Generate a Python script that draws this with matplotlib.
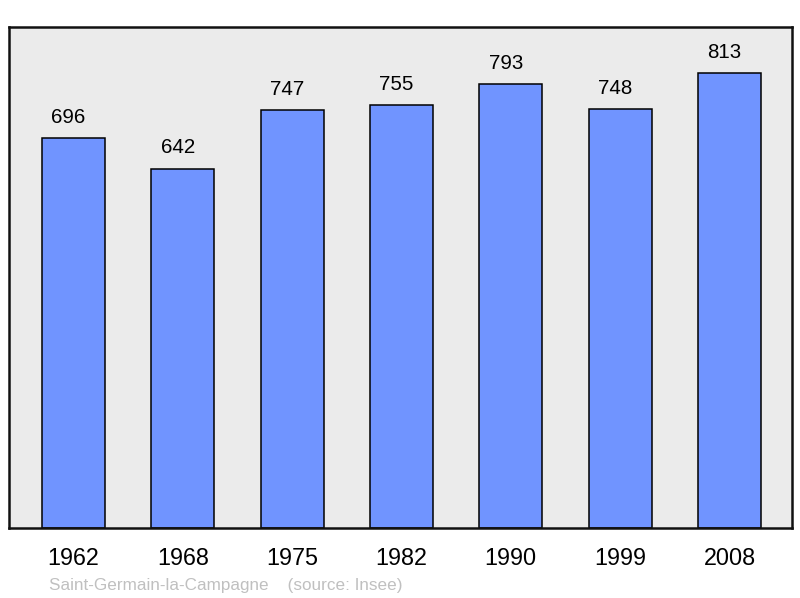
import matplotlib
matplotlib.use("Agg")
import matplotlib.pyplot as plt

years = ["1962", "1968", "1975", "1982", "1990", "1999", "2008"]
population = [696, 642, 747, 755, 793, 748, 813]
footer = "Saint-Germain-la-Campagne    (source: Insee)"

plt.rcParams['font.family'] = ['Liberation Sans', 'DejaVu Sans']

fig = plt.figure(figsize=(8, 5.98), dpi=100)
ax = fig.add_axes([9/800, 70/598, 783/800, 501/598])
ax.set_facecolor('#ebebeb')

x = list(range(len(years)))
bars = ax.bar(x, population, width=0.576, color='#7094ff', edgecolor='black', linewidth=1.1, zorder=2)
for xi, v in zip(x, population):
    ax.annotate(str(v), (xi, v), xytext=(-3.6, 11), textcoords='offset points',
                ha='center', va='baseline', fontsize=14.8, color='black')

ax.set_xlim(-0.59, 6.572)
ax.set_ylim(0, 895)
ax.set_xticks(x)
ax.set_xticklabels(years, fontsize=16.8)
ax.tick_params(axis='x', length=0, pad=13.5)
ax.set_yticks([])
for s in ax.spines.values():
    s.set_linewidth(1.8)
    s.set_color('#111111')

fig.text(49/800, 1 - 585.5/598, footer, fontsize=12.3, color='#c0c0c0', ha='left', va='center')

fig.savefig('out.png', dpi=100)
